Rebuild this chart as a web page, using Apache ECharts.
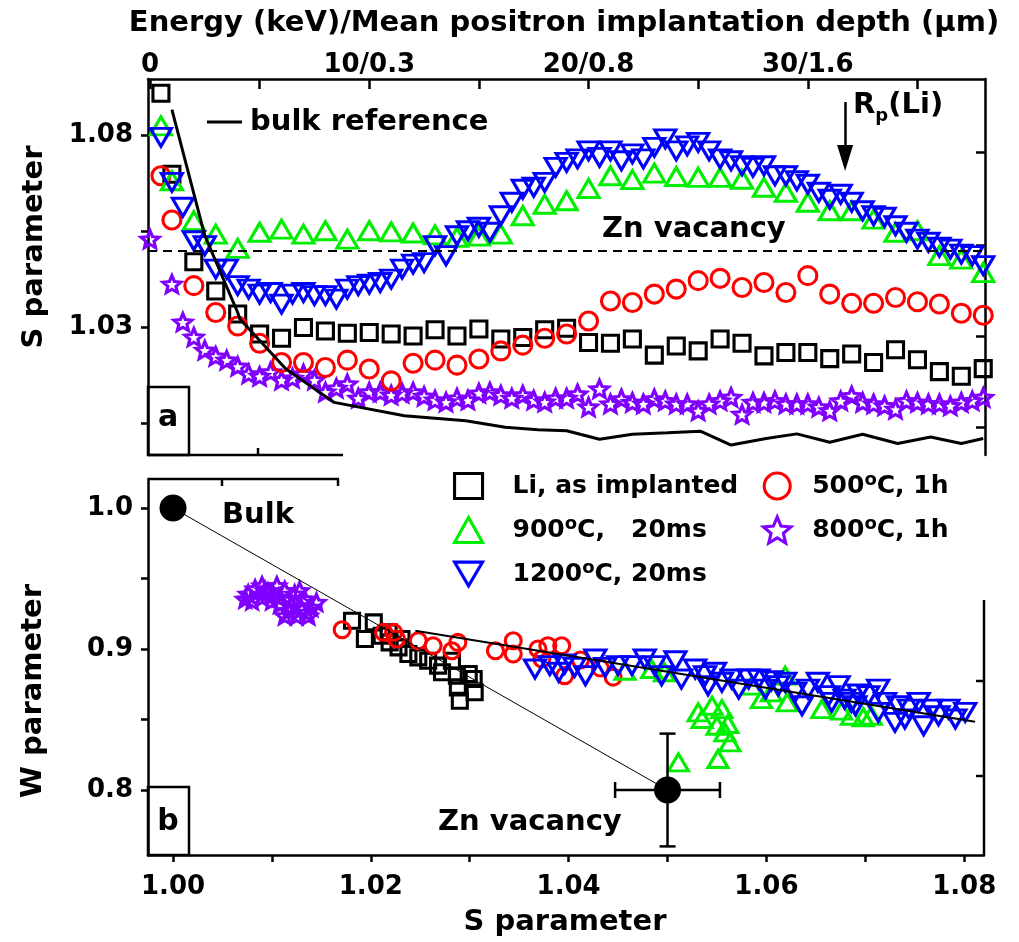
<!DOCTYPE html>
<html>
<head>
<meta charset="utf-8">
<title>S and W parameter</title>
<script src="https://cdn.jsdelivr.net/npm/echarts@6.0.0/dist/echarts.min.js"></script>
<style>
	html, body { margin: 0; padding: 0; background: #fff; }
	#main { width: 1019px; height: 942px; }
</style>
</head>
<body>
<div id="main"></div>
<script type="text/javascript">
	// ---------- panel a : S parameter vs positron energy ----------
	var energyCoarse = [0.5, 1, 2, 3, 4, 5, 6, 7, 8, 9, 10, 11, 12, 13, 14, 15, 16, 17, 18, 19,
		20, 21, 22, 23, 24, 25, 26, 27, 28, 29, 30, 31, 32, 33, 34, 35, 36, 37, 38];
	var energyFine = [0.5, 1, 1.5, 2, 2.5, 3, 3.5, 4, 4.5, 5, 5.5, 6, 6.5, 7, 7.5, 8, 8.5, 9, 9.5, 10,
		10.5, 11, 11.5, 12, 12.5, 13, 13.5, 14, 14.5, 15, 15.5, 16, 16.5, 17, 17.5, 18, 18.5, 19,
		19.5, 20, 20.5, 21, 21.5, 22, 22.5, 23, 23.5, 24, 24.5, 25, 25.5, 26, 26.5, 27, 27.5, 28,
		28.5, 29, 29.5, 30, 30.5, 31, 31.5, 32, 32.5, 33, 33.5, 34, 34.5, 35, 35.5, 36, 36.5, 37, 37.5, 38];
	var energyStar = [0, 1, 1.5, 2, 2.5, 3, 3.5, 4, 4.5, 5, 5.5, 6, 6.5, 7, 7.5, 8, 8.5, 9, 9.5, 10,
		10.5, 11, 11.5, 12, 12.5, 13, 13.5, 14, 14.5, 15, 15.5, 16, 16.5, 17, 17.5, 18, 18.5, 19,
		19.5, 20, 20.5, 21, 21.5, 22, 22.5, 23, 23.5, 24, 24.5, 25, 25.5, 26, 26.5, 27, 27.5, 28,
		28.5, 29, 29.5, 30, 30.5, 31, 31.5, 32, 32.5, 33, 33.5, 34, 34.5, 35, 35.5, 36, 36.5, 37, 37.5, 38];

	var sLi = [1.0909, 1.0698, 1.0470, 1.0394, 1.0334, 1.0282, 1.0271, 1.0299, 1.0290, 1.0284,
		1.0286, 1.0282, 1.0277, 1.0293, 1.0277, 1.0295, 1.0269, 1.0273, 1.0293, 1.0297,
		1.0260, 1.0258, 1.0269, 1.0227, 1.0251, 1.0238, 1.0269, 1.0258, 1.0225, 1.0234,
		1.0234, 1.0218, 1.0230, 1.0208, 1.0241, 1.0215, 1.0184, 1.0172, 1.0192];
	var s500 = [1.0694, 1.0579, 1.0408, 1.0338, 1.0303, 1.0258, 1.0208, 1.0208, 1.0195, 1.0214,
		1.0191, 1.0160, 1.0206, 1.0214, 1.0201, 1.0217, 1.0238, 1.0253, 1.0271, 1.0282,
		1.0316, 1.0368, 1.0364, 1.0386, 1.0399, 1.0421, 1.0427, 1.0403, 1.0416, 1.0390,
		1.0434, 1.0386, 1.0362, 1.0362, 1.0377, 1.0366, 1.0360, 1.0336, 1.0331];
	var s900 = [1.0824, 1.0681, 1.0577, 1.0542, 1.0505, 1.0547, 1.0555, 1.0542, 1.0551, 1.0529,
		1.0551, 1.0548, 1.0545, 1.0540, 1.0534, 1.0537, 1.0542, 1.0590, 1.0620, 1.0629,
		1.0661, 1.0694, 1.0684, 1.0701, 1.0692, 1.0690, 1.0690, 1.0685, 1.0664, 1.0651,
		1.0625, 1.0603, 1.0603, 1.0581, 1.0547, 1.0551, 1.0486, 1.0477, 1.0442];
	var s1200 = [1.0794, 1.0677, 1.0612, 1.0525, 1.0512, 1.0451, 1.0451, 1.0408, 1.0399, 1.0386,
		1.0390, 1.0360, 1.0386, 1.0390, 1.0382, 1.0382, 1.0373, 1.0399, 1.0408, 1.0412,
		1.0416, 1.0425, 1.0451, 1.0464, 1.0468, 1.0512, 1.0486, 1.0538, 1.0551, 1.0560,
		1.0547, 1.0590, 1.0625, 1.0659, 1.0664, 1.0677, 1.0716, 1.0729,
		1.0738, 1.0759, 1.0742, 1.0759, 1.0733, 1.0751, 1.0738, 1.0768, 1.0790, 1.0759,
		1.0772, 1.0781, 1.0759, 1.0738, 1.0733, 1.0720, 1.0716, 1.0720, 1.0694, 1.0694,
		1.0681, 1.0672, 1.0651, 1.0633, 1.0646, 1.0625, 1.0603, 1.0590, 1.0586, 1.0564,
		1.0547, 1.0529, 1.0521, 1.0508, 1.0503, 1.0490, 1.0486, 1.0460];
	var s800 = [1.0529, 1.0412, 1.0313, 1.0274, 1.0240, 1.0224, 1.0214, 1.0198, 1.0178, 1.0172,
		1.0183, 1.0162, 1.0167, 1.0178, 1.0162, 1.0131, 1.0141, 1.0152, 1.0115, 1.0131,
		1.0131, 1.0123, 1.0128, 1.0131, 1.0120, 1.0110, 1.0105, 1.0115, 1.0110, 1.0128,
		1.0131, 1.0123, 1.0115, 1.0123, 1.0110, 1.0105, 1.0115, 1.0115,
		1.0126, 1.0092, 1.0139, 1.0100, 1.0113, 1.0104, 1.0100, 1.0113, 1.0108, 1.0100,
		1.0100, 1.0082, 1.0100, 1.0108, 1.0117, 1.0073, 1.0104, 1.0104, 1.0108, 1.0100,
		1.0100, 1.0100, 1.0092, 1.0082, 1.0108, 1.0121, 1.0104, 1.0100, 1.0095, 1.0086,
		1.0108, 1.0104, 1.0100, 1.0100, 1.0095, 1.0104, 1.0108, 1.0117];

	// bulk reference curve
	var bulkE = [1, 2.5, 4, 4.1, 6.2, 8.4, 11.6, 14.4, 16.2, 17.7, 19, 20.5, 22, 23.6, 25.1,
		26.5, 28.1, 29.5, 31, 32.5, 34.1, 35.6, 37, 38];
	var bulkS = [1.0866, 1.0538, 1.0338, 1.0321, 1.0191, 1.0104, 1.0069, 1.0056, 1.0039, 1.0033,
		1.0030, 1.0008, 1.0021, 1.0025, 1.0029, 0.9993, 1.0010, 1.0022, 1.0000, 1.0021,
		0.9997, 1.0014, 0.9997, 1.0010];
	var znVacancyS = 1.049;
	var rpE = 31.7;            // R_p(Li) arrow
	var rpArrowS = [1.0886, 1.0740];

	var energyTicks = [0, 5, 10, 15, 20, 25, 30, 35];
	var energyLabelValues = [0, 10, 20, 30];
	var energyLabels = ['0', '10/0.3', '20/0.8', '30/1.6'];
	var sTicksA = [1.005, 1.03, 1.055, 1.08];
	var sLabelsA = [1.03, 1.08];
	var sRightTicksA = [1.0040, 1.0277, 1.0514, 1.0756];

	// ---------- panel b : W parameter vs S parameter ----------
	var liSb = [1.0181, 1.0203, 1.0194, 1.0218, 1.0219, 1.0231, 1.0238, 1.0248, 1.0258, 1.0268,
		1.0272, 1.0282, 1.0287, 1.0288, 1.0290, 1.0304, 1.0305, 1.0299, 1.0228, 1.0211];
	var liWb = [0.9201, 0.9189, 0.9071, 0.9118, 0.9047, 0.9071, 0.8965, 0.8941, 0.8917, 0.8882,
		0.8835, 0.8917, 0.8811, 0.8728, 0.8633, 0.8787, 0.8693, 0.8823, 0.9012, 0.9094];
	var s500b = [1.0171, 1.0213, 1.0223, 1.0226, 1.0248, 1.0263, 1.0282, 1.0288, 1.0326, 1.0344,
		1.0344, 1.0369, 1.0379, 1.0393, 1.0373, 1.0396, 1.0412, 1.0432, 1.0445];
	var w500b = [0.9137, 0.9118, 0.9118, 0.9071, 0.9059, 0.9023, 0.8988, 0.9047, 0.8988, 0.9059,
		0.8965, 0.9000, 0.9023, 0.9023, 0.8929, 0.8811, 0.8922, 0.8865, 0.8801];
	var s900b = [1.0457, 1.0484, 1.0497, 1.0531, 1.0545, 1.0555, 1.0535, 1.0550, 1.0561, 1.0558,
		1.0563, 1.0551, 1.0511, 1.0595, 1.0605, 1.0619, 1.0621, 1.0656, 1.0676, 1.0686,
		1.0698, 1.0706, 1.0585];
	var w900b = [0.8846, 0.8858, 0.8835, 0.8551, 0.8598, 0.8574, 0.8504, 0.8456, 0.8468, 0.8409,
		0.8338, 0.8220, 0.8196, 0.8645, 0.8693, 0.8811, 0.8622, 0.8574, 0.8563, 0.8527,
		0.8516, 0.8527, 0.8740];
	var s1200b = [1.0366, 1.0381, 1.0390, 1.0396, 1.0406, 1.0417, 1.0427, 1.0437, 1.0450, 1.0464,
		1.0477, 1.0487, 1.0494, 1.0508, 1.0514, 1.0528, 1.0538, 1.0541, 1.0548, 1.0555,
		1.0565, 1.0572, 1.0582, 1.0592, 1.0599, 1.0605, 1.0612, 1.0619, 1.0629, 1.0636,
		1.0642, 1.0652, 1.0663, 1.0666, 1.0673, 1.0679, 1.0686, 1.0690, 1.0693, 1.0703,
		1.0713, 1.0713, 1.0720, 1.0730, 1.0733, 1.0740, 1.0744, 1.0754, 1.0759, 1.0767,
		1.0774, 1.0784, 1.0791, 1.0801];
	var w1200b = [0.8858, 0.8882, 0.8835, 0.8894, 0.8870, 0.8811, 0.8929, 0.8870, 0.8882, 0.8882,
		0.8929, 0.8882, 0.8811, 0.8917, 0.8787, 0.8858, 0.8811, 0.8740, 0.8835, 0.8764,
		0.8787, 0.8716, 0.8787, 0.8787, 0.8716, 0.8775, 0.8740, 0.8764, 0.8693, 0.8598,
		0.8716, 0.8764, 0.8669, 0.8622, 0.8740, 0.8645, 0.8622, 0.8598, 0.8681, 0.8669,
		0.8716, 0.8551, 0.8622, 0.8480, 0.8598, 0.8504, 0.8574, 0.8622, 0.8456, 0.8574,
		0.8527, 0.8574, 0.8504, 0.8551];
	var s800b = [1.0076, 1.0083, 1.0090, 1.0096, 1.0105, 1.0107, 1.0113, 1.0118, 1.0123, 1.0128,
		1.0133, 1.0140, 1.0145, 1.0135, 1.0125, 1.0117, 1.0108, 1.0100, 1.0090, 1.0080,
		1.0073, 1.0120, 1.0130, 1.0113, 1.0137, 1.0093, 1.0101];
	var w800b = [0.9390, 0.9426, 0.9449, 0.9402, 0.9449, 0.9366, 0.9414, 0.9355, 0.9390, 0.9414,
		0.9355, 0.9296, 0.9331, 0.9260, 0.9236, 0.9272, 0.9319, 0.9343, 0.9366, 0.9343,
		0.9355, 0.9307, 0.9284, 0.9236, 0.9236, 0.9414, 0.9390];

	// bulk and Zn vacancy reference points, error bars, lines
	var refS = [1.00, 1.05];
	var refW = [1.00, 0.80];
	var vacErrS = 0.0053;
	var vacErrW = 0.04;
	var fitS = [1.0245, 1.0811];
	var fitW = [0.9130, 0.8484];

	var sTicksB = [1.00, 1.01, 1.02, 1.03, 1.04, 1.05, 1.06, 1.07, 1.08];
	var sLabelsB = [1.00, 1.02, 1.04, 1.06, 1.08];
	var wTicksB = [0.80, 0.85, 0.90, 0.95, 1.00];
	var wLabelsB = [0.8, 0.9, 1.0];

	var NAME_LI = 'Li, as implanted';
	var NAME_900 = '900°C,   20ms';
	var NAME_1200 = '1200°C, 20ms';
	var NAME_500 = '500°C, 1h';
	var NAME_800 = '800°C, 1h';

	function zip(xs, ys) {
		var out = [];
		for (var i = 0; i < xs.length; i++) {
			out.push([xs[i], ys[i]]);
		}
		return out;
	}

	var FONT = 'DejaVu Sans';
	var STAR = 'path://M0,-10L2.65,-3.64L9.51,-3.09L4.28,1.39L5.88,8.09L0,4.5L-5.88,8.09L-4.28,1.39L-9.51,-3.09L-2.65,-3.64Z';
	var DOWN = 'path://M0,0L20,0L10,17Z';
	var C_LI = '#000000', C_500 = '#ff0000', C_900 = '#00ee00', C_1200 = '#0000ff', C_800 = '#7f00ff';

	function open(color) {
		return { color: 'rgba(255,255,255,0)', borderColor: color, borderWidth: 3.1, opacity: 1 };
	}
	var axisLine = { show: true, onZero: false, lineStyle: { color: '#000', width: 2.5 } };
	var tickStyle = { color: '#000', width: 2.5 };
	var labelStyle = { fontFamily: FONT, fontWeight: 'bold', fontSize: 26, color: '#000' };
	var legendText = {
		fontFamily: FONT, fontWeight: 'bold', fontSize: 25, color: '#000', lineHeight: 30,
		rich: { sup: { fontFamily: FONT, fontWeight: 'bold', fontSize: 18, color: '#000', lineHeight: 14, verticalAlign: 'top' } }
	};

	function scat(name, data, axis, symbol, size, color) {
		return {
			name: name, type: 'scatter', data: data,
			xAxisIndex: axis, yAxisIndex: axis === 0 ? 0 : 2,
			symbol: symbol, symbolSize: size,
			itemStyle: open(color), emphasis: { disabled: true }
		};
	}

	var myChart = echarts.init(document.getElementById('main'));
	var option = {
		animation: false,
		backgroundColor: '#fff',
		grid: [
			{ left: 148, top: 79, right: 34, bottom: 487, outerBoundsMode: 'none' },
			{ left: 148, top: 479, right: 35, bottom: 87, outerBoundsMode: 'none' }
		],
		xAxis: [{
			gridIndex: 0, type: 'value', position: 'top', min: -0.09, max: 38.08,
			axisLine: axisLine,
			axisTick: { show: true, inside: true, length: 10, lineStyle: tickStyle, customValues: energyTicks },
			axisLabel: Object.assign({
				margin: 1, customValues: energyLabelValues,
				formatter: function(v) { return energyLabels[energyLabelValues.indexOf(v)]; }
			}, labelStyle),
			splitLine: { show: false }
		}, {
			gridIndex: 1, type: 'value', position: 'bottom', min: 0.99747, max: 1.0820,
			axisLine: axisLine,
			axisTick: { show: true, inside: false, length: 7, lineStyle: tickStyle, customValues: sTicksB },
			axisLabel: Object.assign({
				margin: 19, customValues: sLabelsB,
				formatter: function(v) { return v.toFixed(2); }
			}, labelStyle),
			splitLine: { show: false }
		}],
		yAxis: [{
			gridIndex: 0, type: 'value', position: 'left', min: 0.9967, max: 1.0946,
			axisLine: axisLine,
			axisTick: { show: true, inside: false, length: 7, lineStyle: tickStyle, customValues: sTicksA },
			axisLabel: Object.assign({
				margin: 15, customValues: sLabelsA,
				formatter: function(v) { return v.toFixed(2); }
			}, labelStyle),
			splitLine: { show: false }
		}, {
			gridIndex: 0, type: 'value', position: 'right', min: 0.9967, max: 1.0946,
			axisLine: axisLine,
			axisTick: { show: true, inside: true, length: 9, lineStyle: tickStyle, customValues: sRightTicksA },
			axisLabel: { show: false },
			splitLine: { show: false }
		}, {
			gridIndex: 1, type: 'value', position: 'left', min: 0.7539, max: 1.0206,
			axisLine: axisLine,
			axisTick: { show: true, inside: false, length: 7, lineStyle: tickStyle, customValues: wTicksB },
			axisLabel: Object.assign({
				margin: 15, customValues: wLabelsB,
				formatter: function(v) { return v.toFixed(1); }
			}, labelStyle),
			splitLine: { show: false }
		}],
		legend: [{
			// left column
			orient: 'vertical', left: 453, top: 471, padding: 0, itemGap: 14,
			itemWidth: 28, itemHeight: 25, selectedMode: false,
			data: [NAME_LI, NAME_900, { name: NAME_1200, icon: DOWN }],
			itemStyle: { borderWidth: 3.1, opacity: 1 },
			formatter: function(n) { return n.replace('°', '{sup|o}'); },
			textStyle: Object.assign({ padding: [0, 0, 0, 25] }, legendText)
		}, {
			// right column
			orient: 'vertical', left: 762, top: 471, padding: 0, itemGap: 14,
			itemWidth: 28, itemHeight: 26, selectedMode: false,
			data: [NAME_500, NAME_800],
			itemStyle: { borderWidth: 3.1, opacity: 1 },
			formatter: function(n) { return n.replace('°', '{sup|o}'); },
			textStyle: Object.assign({ padding: [0, 0, 0, 16] }, legendText)
		}, {
			// bulk reference line key in panel a
			left: 207, top: 107, padding: 0, itemWidth: 35, itemHeight: 3, selectedMode: false,
			data: [{ name: 'bulk reference', icon: 'rect' }],
			itemStyle: { color: '#000', borderWidth: 0 },
			textStyle: { fontFamily: FONT, fontWeight: 'bold', fontSize: 29, color: '#000', lineHeight: 30, padding: [0, 0, 0, 3] }
		}],
		series: [
			{
				name: 'bulk reference', type: 'line', xAxisIndex: 0, yAxisIndex: 0,
				data: zip(bulkE, bulkS), showSymbol: false, symbol: 'none',
				lineStyle: { color: '#000', width: 3 }, itemStyle: { color: '#000' },
				emphasis: { disabled: true },
				markLine: {
					silent: true, symbol: ['none', 'none'], label: { show: false },
					data: [
						{ yAxis: znVacancyS, lineStyle: { color: '#000', width: 2, type: [9, 6] } },
						[
							{ coord: [rpE, rpArrowS[0]], symbol: 'none', lineStyle: { color: '#000', width: 2.5, type: 'solid' } },
							{ coord: [rpE, rpArrowS[1]], symbol: 'triangle', symbolSize: [16, 26] }
						]
					]
				}
			},
			scat(NAME_800, zip(energyStar, s800), 0, STAR, [18, 17], C_800),
			scat(NAME_LI, zip(energyCoarse, sLi), 0, 'rect', [16, 16], C_LI),
			scat(NAME_500, zip(energyCoarse, s500), 0, 'circle', 18, C_500),
			scat(NAME_900, zip(energyCoarse, s900), 0, 'triangle', [21, 18], C_900),
			scat(NAME_1200, zip(energyFine, s1200), 0, DOWN, [21, 18], C_1200),

			scat(NAME_800, zip(s800b, w800b), 1, STAR, [17, 16], C_800),
			scat(NAME_LI, zip(liSb, liWb), 1, 'rect', [15, 15], C_LI),
			scat(NAME_500, zip(s500b, w500b), 1, 'circle', 16, C_500),
			scat(NAME_900, zip(s900b, w900b), 1, 'triangle', [20, 17], C_900),
			scat(NAME_1200, zip(s1200b, w1200b), 1, DOWN, [21, 18], C_1200),
			{
				// line from bulk to Zn vacancy
				type: 'line', xAxisIndex: 1, yAxisIndex: 2, data: zip(refS, refW),
				showSymbol: false, symbol: 'none', lineStyle: { color: '#000', width: 1 }, z: 3,
				emphasis: { disabled: true }
			}, {
				type: 'line', xAxisIndex: 1, yAxisIndex: 2, data: zip(fitS, fitW),
				showSymbol: false, symbol: 'none', lineStyle: { color: '#000', width: 2 }, z: 3,
				emphasis: { disabled: true }
			}, {
				// Zn vacancy error bars
				type: 'custom', xAxisIndex: 1, yAxisIndex: 2, z: 4,
				data: [[refS[1], refW[1], vacErrS, vacErrW]],
				encode: { x: 0, y: 1 },
				renderItem: function(params, api) {
					var s = api.value(0), w = api.value(1), ds = api.value(2), dw = api.value(3);
					var l = api.coord([s - ds, w]), r = api.coord([s + ds, w]);
					var t = api.coord([s, w + dw]), b = api.coord([s, w - dw]);
					var cap = 8;
					var st = { stroke: '#000', lineWidth: 2.5 };
					return {
						type: 'group', children: [
							{ type: 'line', shape: { x1: l[0], y1: l[1], x2: r[0], y2: r[1] }, style: st },
							{ type: 'line', shape: { x1: l[0], y1: l[1] - cap, x2: l[0], y2: l[1] + cap }, style: st },
							{ type: 'line', shape: { x1: r[0], y1: r[1] - cap, x2: r[0], y2: r[1] + cap }, style: st },
							{ type: 'line', shape: { x1: t[0], y1: t[1], x2: b[0], y2: b[1] }, style: st },
							{ type: 'line', shape: { x1: t[0] - cap, y1: t[1], x2: t[0] + cap, y2: t[1] }, style: st },
							{ type: 'line', shape: { x1: b[0] - cap, y1: b[1], x2: b[0] + cap, y2: b[1] }, style: st }
						]
					};
				}
			}, {
				name: 'reference points', type: 'scatter', xAxisIndex: 1, yAxisIndex: 2,
				data: zip(refS, refW), symbol: 'circle', symbolSize: 27, z: 5,
				itemStyle: { color: '#000', opacity: 1 }, emphasis: { disabled: true }
			}
		],
		graphic: [
			// axis titles
			{ type: 'text', x: 564, y: 23, style: { text: 'Energy (keV)/Mean positron implantation depth (μm)', fontFamily: FONT, fontWeight: 'bold', fontSize: 29, fill: '#000', align: 'center', verticalAlign: 'middle' } },
			{ type: 'text', x: 34, y: 247, rotation: Math.PI / 2, style: { text: 'S parameter', fontFamily: FONT, fontWeight: 'bold', fontSize: 29, fill: '#000', align: 'center', verticalAlign: 'middle' } },
			{ type: 'text', x: 33, y: 691, rotation: Math.PI / 2, style: { text: 'W parameter', fontFamily: FONT, fontWeight: 'bold', fontSize: 29, fill: '#000', align: 'center', verticalAlign: 'middle' } },
			{ type: 'text', x: 565, y: 922, style: { text: 'S parameter', fontFamily: FONT, fontWeight: 'bold', fontSize: 29, fill: '#000', align: 'center', verticalAlign: 'middle' } },
			// annotations
			{ type: 'text', x: 602, y: 229, style: { text: 'Zn vacancy', fontFamily: FONT, fontWeight: 'bold', fontSize: 29, fill: '#000', align: 'left', verticalAlign: 'middle' } },
			{ type: 'text', x: 853, y: 105, style: {
				text: 'R{sub|p}(Li)', fontFamily: FONT, fontWeight: 'bold', fontSize: 29, fill: '#000', align: 'left', verticalAlign: 'middle', lineHeight: 40,
				rich: { sub: { fontFamily: FONT, fontWeight: 'bold', fontSize: 18, fill: '#000', lineHeight: 14, verticalAlign: 'bottom' } }
			} },
			{ type: 'text', x: 222, y: 515, style: { text: 'Bulk', fontFamily: FONT, fontWeight: 'bold', fontSize: 29, fill: '#000', align: 'left', verticalAlign: 'middle' } },
			{ type: 'text', x: 438, y: 822, style: { text: 'Zn vacancy', fontFamily: FONT, fontWeight: 'bold', fontSize: 29, fill: '#000', align: 'left', verticalAlign: 'middle' } },
			// panel tags
			{ type: 'rect', shape: { x: 148, y: 387, width: 41, height: 68 }, style: { fill: 'none', stroke: '#000', lineWidth: 2.5 } },
			{ type: 'text', x: 168, y: 418, style: { text: 'a', fontFamily: FONT, fontWeight: 'bold', fontSize: 30, fill: '#000', align: 'center', verticalAlign: 'middle' } },
			{ type: 'rect', shape: { x: 148, y: 787, width: 41, height: 68 }, style: { fill: 'none', stroke: '#000', lineWidth: 2.5 } },
			{ type: 'text', x: 168, y: 822, style: { text: 'b', fontFamily: FONT, fontWeight: 'bold', fontSize: 30, fill: '#000', align: 'center', verticalAlign: 'middle' } },
			// broken axis pieces between the panels
			{ type: 'line', shape: { x1: 148, y1: 455, x2: 343, y2: 455 }, style: { stroke: '#000', lineWidth: 2.5 } },
			{ type: 'line', shape: { x1: 258, y1: 455, x2: 258, y2: 448 }, style: { stroke: '#000', lineWidth: 2.5 } },
			{ type: 'line', shape: { x1: 148, y1: 479, x2: 339, y2: 479 }, style: { stroke: '#000', lineWidth: 2.5 } },
			{ type: 'line', shape: { x1: 222, y1: 479, x2: 222, y2: 486 }, style: { stroke: '#000', lineWidth: 2.5 } },
			{ type: 'line', shape: { x1: 338, y1: 479, x2: 338, y2: 486 }, style: { stroke: '#000', lineWidth: 2.5 } },
			{ type: 'line', shape: { x1: 984, y1: 600, x2: 984, y2: 855 }, style: { stroke: '#000', lineWidth: 2.5 } },
			{ type: 'line', shape: { x1: 976, y1: 681, x2: 984, y2: 681 }, style: { stroke: '#000', lineWidth: 2.5 } },
			{ type: 'line', shape: { x1: 976, y1: 776, x2: 984, y2: 776 }, style: { stroke: '#000', lineWidth: 2.5 } }
		]
	};
	myChart.setOption(option);
</script>
</body>
</html>
